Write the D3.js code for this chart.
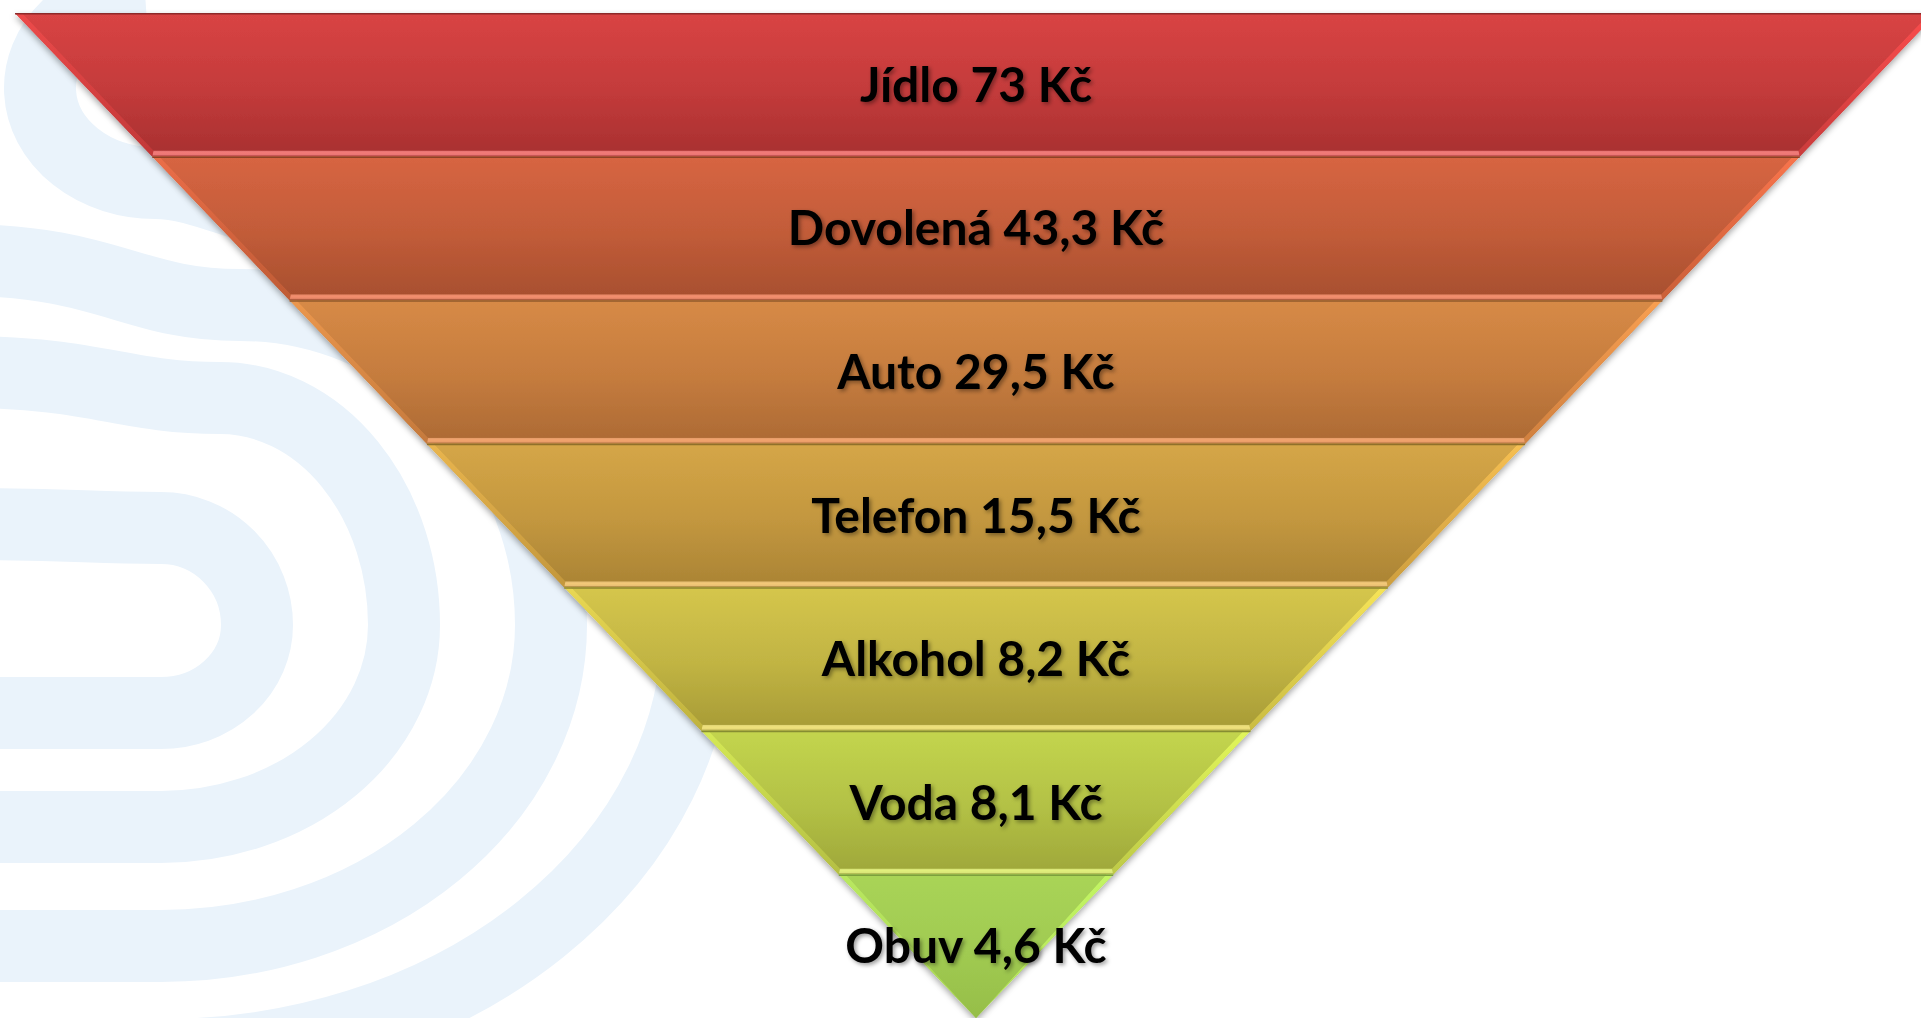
<!DOCTYPE html>
<html>
<head>
<meta charset="utf-8">
<script src="https://cdn.jsdelivr.net/npm/d3@7/dist/d3.min.js"></script>
<style>
  html, body { margin: 0; padding: 0; background: #ffffff; overflow: hidden; }
  svg { display: block; }
</style>
</head>
<body>
<svg id="chart" width="1921" height="1018"></svg>
<script>
// ---- data ----
const categories = ["Jídlo", "Dovolená", "Auto", "Telefon", "Alkohol", "Voda", "Obuv"];
const values = [73, 43.3, 29.5, 15.5, 8.2, 8.1, 4.6];
const unit = "Kč";

// ---- styles ----
const topColors = ["#D94444", "#D76542", "#D78A46", "#D5A647", "#D5C64C", "#C3D54E", "#A9D457"];
const bottomColors = ["#AA3131", "#A9502F", "#AE6B35", "#AC8535", "#A99D37", "#A0A93B", "#96BE49"];
const highlightColors = ["#F27A78", "#F38E6E", "#F2A46E", "#F3C878", "#F0E27C", "#E2EF7C", "#C8EE7E"];

const W = 1921, H = 1018;
const svg = d3.select("#chart");
const defs = svg.append("defs");

// ---- background logo (pale stripes) ----
const bg = svg.append("g").attr("fill", "none").attr("stroke", "#EAF3FB").attr("stroke-width", 72);
const lcy = 625, lcx = 161;
// x0y: y of stripe centre at left edge; tx: x where the top arc starts; ty: its y; rx: right extreme x; rb: bottom radius
const bands = [
  {x0y: 524, tx: 161, ty: 528, rx: 257, rb: 88},
  {x0y: 372, tx: 220, ty: 398, rx: 404, rb: 202},
  {x0y: 260, tx: 240, ty: 305, rx: 551, rb: 321}
];
bands.forEach(b => {
  const p = d3.path();
  p.moveTo(-40, b.x0y);
  p.bezierCurveTo(b.tx * 0.45, b.x0y, b.tx * 0.55, b.ty, b.tx, b.ty);
  bg.append("path").attr("d",
    p.toString() +
    ` A ${b.rx - b.tx},${lcy - b.ty} 0 0 1 ${b.rx},${lcy}` +
    ` A ${b.rx - lcx},${b.rb} 0 0 1 ${lcx},${lcy + b.rb} L -40,${lcy + b.rb}`);
});
// outer S-shaped band
{
  const ecx = 155, ecy = 88, erx = 115, ery = 95;
  const a0 = -95 * Math.PI / 180;
  const sx = ecx + erx * Math.cos(a0), sy = ecy + ery * Math.sin(a0);
  const by = ecy + ery;
  bg.append("path").attr("d",
    `M ${sx},${sy} A ${erx},${ery} 0 0 0 ${ecx},${by}` +
    ` C 205,${by} 250,215 300,215` +
    ` A 398,410 0 0 1 698,${lcy} A 537,430 0 0 1 ${lcx},${lcy + 430} L -40,${lcy + 430}`);
}

// ---- filters ----
const sh = defs.append("filter").attr("id", "shadow").attr("x", "-5%").attr("y", "-5%").attr("width", "110%").attr("height", "110%");
sh.append("feDropShadow").attr("dx", 0).attr("dy", 3).attr("stdDeviation", 3)
  .attr("flood-color", "#000").attr("flood-opacity", 0.35);
const tsh = defs.append("filter").attr("id", "tshadow").attr("x", "-10%").attr("y", "-30%").attr("width", "120%").attr("height", "160%");
tsh.append("feDropShadow").attr("dx", 2).attr("dy", 2).attr("stdDeviation", 2)
  .attr("flood-color", "#000").attr("flood-opacity", 0.4);

// ---- scales ----
const yScale = d3.scaleBand().domain(categories).range([13, 1018]).paddingInner(0).paddingOuter(0);
const halfW = d3.scaleLinear().domain([13, 1018]).range([961, 0]);
const cx = 976;
const bw = yScale.bandwidth();

function grad(id, stops) {
  const g = defs.append("linearGradient").attr("id", id).attr("x1", 0).attr("y1", 0).attr("x2", 0).attr("y2", 1);
  stops.forEach(s => g.append("stop").attr("offset", s[0]).attr("stop-color", s[1]));
}
const pts = a => a.map(p => p[0].toFixed(2) + "," + p[1].toFixed(2)).join(" ");

const pyr = svg.append("g").attr("filter", "url(#shadow)");
const side = 7, bot = 6;

categories.forEach((cat, i) => {
  const y0 = yScale(cat), y1 = y0 + bw;
  const last = i === categories.length - 1;
  const top = topColors[i], bottom = bottomColors[i], hi = highlightColors[i];
  grad("g" + i, [[0, top], [0.55, d3.interpolateRgb(top, bottom)(0.45)], [1, bottom]]);
  grad("l" + i, [[0, d3.color(top).brighter(0.25)], [1, d3.color(bottom).brighter(0.35)]]);
  grad("r" + i, [[0, d3.color(top).brighter(0.4)], [1, d3.color(bottom).brighter(0.5)]]);
  grad("b" + i, [[0, d3.color(hi).darker(0.2)], [0.35, hi], [0.7, d3.color(hi).darker(0.1)], [1, d3.color(bottom).darker(0.4)]]);

  const yb = last ? y1 : y1 - bot;
  const oTL = [cx - halfW(y0), y0], oTR = [cx + halfW(y0), y0];
  const oBL = [cx - halfW(y1), y1], oBR = [cx + halfW(y1), y1];
  const iTL = [cx - halfW(y0) + side, y0], iTR = [cx + halfW(y0) - side, y0];
  const ibw = Math.max(halfW(yb) - side, 0);
  const iBL = [cx - ibw, yb], iBR = [cx + ibw, yb];

  const g = pyr.append("g");
  g.append("polygon").attr("points", pts([oTL, oTR, oBR, oBL])).attr("fill", "url(#g" + i + ")");
  g.append("polygon").attr("points", pts([oTL, iTL, iBL, oBL])).attr("fill", "url(#l" + i + ")");
  g.append("polygon").attr("points", pts([oTR, iTR, iBR, oBR])).attr("fill", "url(#r" + i + ")");
  if (!last) {
    g.append("polygon").attr("points", pts([iBL, iBR, oBR, oBL])).attr("fill", "url(#b" + i + ")");
  }
  g.append("polygon").attr("points", pts([iTL, iTR, iBR, iBL])).attr("fill", "url(#g" + i + ")");
  g.append("line").attr("x1", oTL[0]).attr("x2", oTR[0]).attr("y1", y0 + 0.75).attr("y2", y0 + 0.75)
    .attr("stroke", d3.color(bottom).darker(0.5)).attr("stroke-width", 1.5);
});

// ---- labels ----
const fmt = v => String(v).replace(".", ",");
svg.append("g").selectAll("text").data(categories).join("text")
  .attr("x", cx)
  .attr("y", d => yScale(d) + bw / 2 + 17)
  .attr("text-anchor", "middle")
  .attr("font-family", "Lato, 'Open Sans', sans-serif")
  .attr("font-weight", 700)
  .attr("font-size", 48)
  .attr("fill", "#000")
  .attr("filter", "url(#tshadow)")
  .text((d, i) => `${d} ${fmt(values[i])} ${unit}`);
</script>
</body>
</html>
